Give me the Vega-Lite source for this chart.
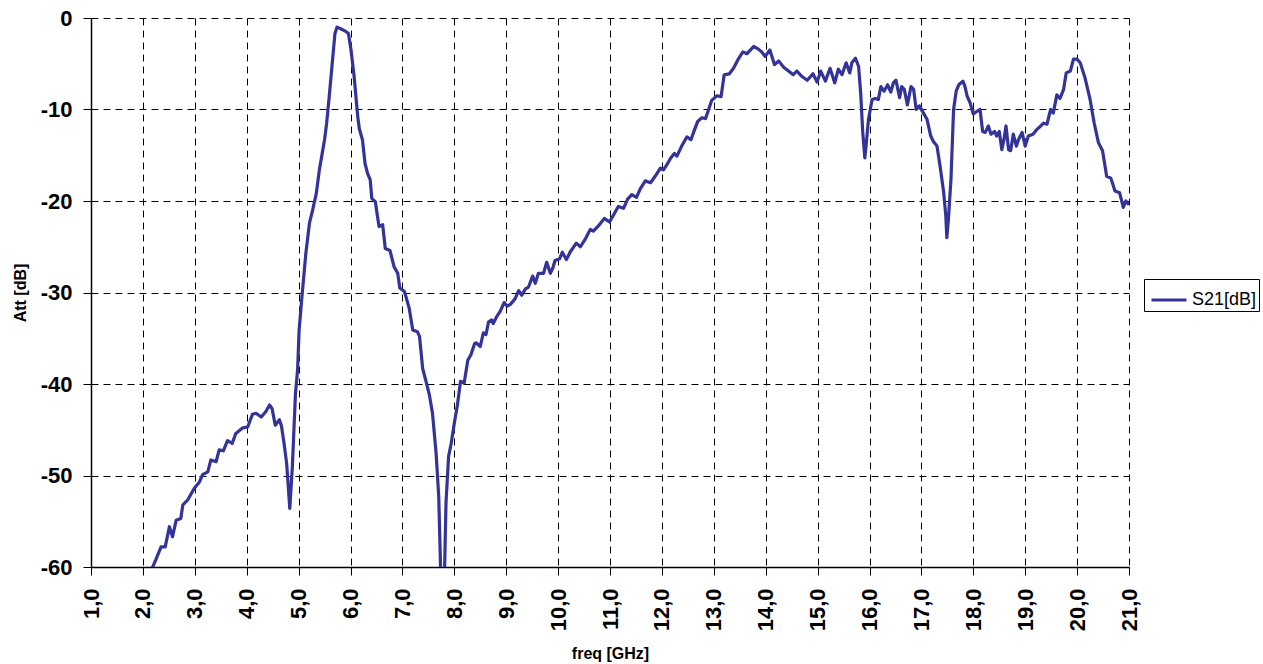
{
  "$schema": "https://vega.github.io/schema/vega-lite/v6.json",
  "width": 1038,
  "height": 549,
  "autosize": {"type": "none"},
  "padding": {"left": 91, "top": 18, "right": 134, "bottom": 97},
  "background": "white",
  "config": {
    "font": "Liberation Sans",
    "view": {"stroke": null},
    "axis": {
      "domainColor": "#000",
      "domainWidth": 1.5,
      "tickColor": "#000",
      "tickSize": 8,
      "grid": true,
      "gridColor": "#000",
      "gridDash": [7, 5],
      "gridWidth": 1,
      "labelFont": "Liberation Sans",
      "labelFontSize": 22,
      "labelFontWeight": "bold",
      "labelColor": "#000",
      "labelFlush": false,
      "labelOverlap": false,
      "titleFont": "Liberation Sans",
      "titleFontSize": 16,
      "titleFontWeight": "bold",
      "titleColor": "#000"
    }
  },
  "data": {
    "values": [
      {"f": 2.15, "s21": -60.5}, {"f": 2.25, "s21": -59.2}, {"f": 2.35, "s21": -57.8}, {"f": 2.43, "s21": -57.8},
      {"f": 2.51, "s21": -55.6}, {"f": 2.57, "s21": -56.7}, {"f": 2.64, "s21": -54.9}, {"f": 2.73, "s21": -54.7},
      {"f": 2.77, "s21": -53.2}, {"f": 2.86, "s21": -52.7}, {"f": 2.99, "s21": -51.4}, {"f": 3.09, "s21": -50.7},
      {"f": 3.15, "s21": -49.9}, {"f": 3.25, "s21": -49.6}, {"f": 3.31, "s21": -48.3}, {"f": 3.41, "s21": -48.5},
      {"f": 3.47, "s21": -47.2}, {"f": 3.55, "s21": -47.3}, {"f": 3.63, "s21": -46.2}, {"f": 3.72, "s21": -46.5},
      {"f": 3.79, "s21": -45.4}, {"f": 3.92, "s21": -44.8}, {"f": 4.02, "s21": -44.7}, {"f": 4.11, "s21": -43.3},
      {"f": 4.18, "s21": -43.2}, {"f": 4.28, "s21": -43.6}, {"f": 4.37, "s21": -43.0}, {"f": 4.44, "s21": -42.3},
      {"f": 4.49, "s21": -42.7}, {"f": 4.55, "s21": -44.5}, {"f": 4.63, "s21": -43.9}, {"f": 4.67, "s21": -44.6},
      {"f": 4.72, "s21": -46.5}, {"f": 4.77, "s21": -48.7}, {"f": 4.83, "s21": -53.6}, {"f": 4.88, "s21": -49.0},
      {"f": 4.94, "s21": -41.0}, {"f": 4.98, "s21": -38.5}, {"f": 5.01, "s21": -34.1}, {"f": 5.07, "s21": -30.1},
      {"f": 5.14, "s21": -25.7}, {"f": 5.21, "s21": -22.4}, {"f": 5.27, "s21": -21.0}, {"f": 5.34, "s21": -19.2},
      {"f": 5.40, "s21": -16.6}, {"f": 5.50, "s21": -13.3}, {"f": 5.54, "s21": -11.5}, {"f": 5.59, "s21": -8.6},
      {"f": 5.66, "s21": -4.2}, {"f": 5.70, "s21": -1.7}, {"f": 5.74, "s21": -1.0}, {"f": 5.82, "s21": -1.2},
      {"f": 5.89, "s21": -1.4}, {"f": 5.96, "s21": -1.7}, {"f": 6.01, "s21": -3.5}, {"f": 6.07, "s21": -6.4},
      {"f": 6.14, "s21": -10.8}, {"f": 6.17, "s21": -12.1}, {"f": 6.23, "s21": -13.3}, {"f": 6.28, "s21": -15.9},
      {"f": 6.33, "s21": -17.0}, {"f": 6.38, "s21": -17.7}, {"f": 6.41, "s21": -19.7}, {"f": 6.48, "s21": -20.1},
      {"f": 6.52, "s21": -21.7}, {"f": 6.55, "s21": -22.8}, {"f": 6.62, "s21": -22.6}, {"f": 6.67, "s21": -25.2},
      {"f": 6.76, "s21": -25.4}, {"f": 6.84, "s21": -27.2}, {"f": 6.91, "s21": -27.9}, {"f": 6.95, "s21": -29.5},
      {"f": 7.04, "s21": -29.9}, {"f": 7.13, "s21": -31.7}, {"f": 7.20, "s21": -34.1}, {"f": 7.29, "s21": -34.3},
      {"f": 7.33, "s21": -34.8}, {"f": 7.39, "s21": -38.3}, {"f": 7.45, "s21": -39.6}, {"f": 7.52, "s21": -41.2},
      {"f": 7.58, "s21": -43.2}, {"f": 7.65, "s21": -47.6}, {"f": 7.70, "s21": -52.3}, {"f": 7.74, "s21": -61.0},
      {"f": 7.81, "s21": -61.0}, {"f": 7.84, "s21": -53.0}, {"f": 7.89, "s21": -47.9}, {"f": 7.94, "s21": -46.5},
      {"f": 8.00, "s21": -44.3}, {"f": 8.06, "s21": -42.3}, {"f": 8.12, "s21": -39.7}, {"f": 8.19, "s21": -39.9},
      {"f": 8.26, "s21": -37.4}, {"f": 8.32, "s21": -36.8}, {"f": 8.39, "s21": -35.6}, {"f": 8.42, "s21": -35.5},
      {"f": 8.50, "s21": -35.9}, {"f": 8.56, "s21": -34.4}, {"f": 8.61, "s21": -34.6}, {"f": 8.66, "s21": -33.2},
      {"f": 8.72, "s21": -33.0}, {"f": 8.75, "s21": -33.4}, {"f": 8.82, "s21": -32.6}, {"f": 8.88, "s21": -32.1},
      {"f": 8.96, "s21": -31.1}, {"f": 9.02, "s21": -31.5}, {"f": 9.08, "s21": -31.3}, {"f": 9.17, "s21": -30.7},
      {"f": 9.24, "s21": -29.8}, {"f": 9.30, "s21": -30.3}, {"f": 9.37, "s21": -29.6}, {"f": 9.43, "s21": -29.4},
      {"f": 9.51, "s21": -28.2}, {"f": 9.56, "s21": -29.0}, {"f": 9.62, "s21": -27.9}, {"f": 9.72, "s21": -27.9},
      {"f": 9.78, "s21": -26.7}, {"f": 9.85, "s21": -27.9}, {"f": 9.90, "s21": -27.3}, {"f": 9.94, "s21": -26.5},
      {"f": 10.03, "s21": -26.3}, {"f": 10.08, "s21": -25.6}, {"f": 10.16, "s21": -26.4}, {"f": 10.23, "s21": -25.6},
      {"f": 10.35, "s21": -24.6}, {"f": 10.43, "s21": -25.0}, {"f": 10.52, "s21": -24.2}, {"f": 10.62, "s21": -23.1},
      {"f": 10.68, "s21": -23.3}, {"f": 10.78, "s21": -22.7}, {"f": 10.89, "s21": -21.9}, {"f": 10.99, "s21": -22.3},
      {"f": 11.07, "s21": -21.5}, {"f": 11.16, "s21": -20.6}, {"f": 11.26, "s21": -20.8}, {"f": 11.34, "s21": -19.8},
      {"f": 11.42, "s21": -19.3}, {"f": 11.51, "s21": -19.6}, {"f": 11.58, "s21": -18.7}, {"f": 11.68, "s21": -17.8},
      {"f": 11.78, "s21": -18.0}, {"f": 11.87, "s21": -17.3}, {"f": 11.97, "s21": -16.4}, {"f": 12.03, "s21": -16.6},
      {"f": 12.10, "s21": -16.0}, {"f": 12.17, "s21": -15.3}, {"f": 12.24, "s21": -14.8}, {"f": 12.29, "s21": -15.1},
      {"f": 12.39, "s21": -13.9}, {"f": 12.48, "s21": -13.0}, {"f": 12.56, "s21": -13.3}, {"f": 12.61, "s21": -12.5},
      {"f": 12.69, "s21": -11.3}, {"f": 12.77, "s21": -10.9}, {"f": 12.84, "s21": -11.0}, {"f": 12.90, "s21": -10.0},
      {"f": 12.96, "s21": -9.0}, {"f": 13.06, "s21": -8.5}, {"f": 13.14, "s21": -8.6}, {"f": 13.20, "s21": -6.2},
      {"f": 13.30, "s21": -6.1}, {"f": 13.38, "s21": -5.5}, {"f": 13.48, "s21": -4.4}, {"f": 13.56, "s21": -3.7},
      {"f": 13.64, "s21": -3.9}, {"f": 13.77, "s21": -3.1}, {"f": 13.86, "s21": -3.4}, {"f": 13.92, "s21": -3.7},
      {"f": 13.99, "s21": -4.2}, {"f": 14.08, "s21": -3.5}, {"f": 14.17, "s21": -5.1}, {"f": 14.25, "s21": -4.7},
      {"f": 14.35, "s21": -5.4}, {"f": 14.44, "s21": -5.8}, {"f": 14.53, "s21": -6.2}, {"f": 14.60, "s21": -5.8},
      {"f": 14.70, "s21": -6.4}, {"f": 14.80, "s21": -6.8}, {"f": 14.91, "s21": -6.1}, {"f": 14.99, "s21": -7.0},
      {"f": 15.06, "s21": -5.8}, {"f": 15.15, "s21": -6.9}, {"f": 15.24, "s21": -5.5}, {"f": 15.33, "s21": -7.1},
      {"f": 15.40, "s21": -5.6}, {"f": 15.47, "s21": -6.2}, {"f": 15.55, "s21": -4.9}, {"f": 15.62, "s21": -6.0},
      {"f": 15.66, "s21": -4.9}, {"f": 15.73, "s21": -4.4}, {"f": 15.79, "s21": -5.3}, {"f": 15.83, "s21": -8.2},
      {"f": 15.87, "s21": -12.5}, {"f": 15.91, "s21": -15.3}, {"f": 15.94, "s21": -13.6}, {"f": 15.98, "s21": -11.1},
      {"f": 16.05, "s21": -8.9}, {"f": 16.11, "s21": -8.8}, {"f": 16.17, "s21": -8.9}, {"f": 16.22, "s21": -7.5},
      {"f": 16.28, "s21": -8.0}, {"f": 16.35, "s21": -7.3}, {"f": 16.41, "s21": -8.1}, {"f": 16.46, "s21": -7.1},
      {"f": 16.51, "s21": -6.8}, {"f": 16.58, "s21": -8.7}, {"f": 16.62, "s21": -7.5}, {"f": 16.67, "s21": -7.8},
      {"f": 16.73, "s21": -9.5}, {"f": 16.80, "s21": -7.5}, {"f": 16.85, "s21": -7.8}, {"f": 16.90, "s21": -10.0},
      {"f": 16.96, "s21": -9.6}, {"f": 17.04, "s21": -10.4}, {"f": 17.11, "s21": -11.1}, {"f": 17.18, "s21": -12.9},
      {"f": 17.23, "s21": -13.5}, {"f": 17.30, "s21": -14.0}, {"f": 17.36, "s21": -16.2}, {"f": 17.43, "s21": -19.1},
      {"f": 17.47, "s21": -21.6}, {"f": 17.49, "s21": -24.0}, {"f": 17.52, "s21": -22.0}, {"f": 17.57, "s21": -17.6},
      {"f": 17.62, "s21": -10.0}, {"f": 17.67, "s21": -8.0}, {"f": 17.72, "s21": -7.3}, {"f": 17.80, "s21": -6.9},
      {"f": 17.84, "s21": -7.5}, {"f": 17.88, "s21": -8.5}, {"f": 17.94, "s21": -9.3}, {"f": 18.00, "s21": -10.5},
      {"f": 18.07, "s21": -10.2}, {"f": 18.13, "s21": -10.0}, {"f": 18.18, "s21": -12.4}, {"f": 18.23, "s21": -12.5},
      {"f": 18.29, "s21": -11.8}, {"f": 18.34, "s21": -12.7}, {"f": 18.41, "s21": -12.4}, {"f": 18.45, "s21": -12.9},
      {"f": 18.50, "s21": -12.4}, {"f": 18.55, "s21": -14.4}, {"f": 18.59, "s21": -13.3}, {"f": 18.63, "s21": -11.8},
      {"f": 18.68, "s21": -14.4}, {"f": 18.72, "s21": -14.5}, {"f": 18.77, "s21": -12.7}, {"f": 18.83, "s21": -14.0},
      {"f": 18.87, "s21": -13.3}, {"f": 18.94, "s21": -12.5}, {"f": 19.00, "s21": -14.0}, {"f": 19.06, "s21": -12.9},
      {"f": 19.15, "s21": -12.7}, {"f": 19.22, "s21": -12.2}, {"f": 19.30, "s21": -11.8}, {"f": 19.35, "s21": -11.5},
      {"f": 19.42, "s21": -11.6}, {"f": 19.49, "s21": -10.0}, {"f": 19.54, "s21": -10.4}, {"f": 19.61, "s21": -8.4},
      {"f": 19.67, "s21": -8.8}, {"f": 19.74, "s21": -7.8}, {"f": 19.79, "s21": -6.0}, {"f": 19.87, "s21": -5.8},
      {"f": 19.93, "s21": -4.5}, {"f": 20.00, "s21": -4.5}, {"f": 20.06, "s21": -4.9}, {"f": 20.15, "s21": -6.5},
      {"f": 20.25, "s21": -8.9}, {"f": 20.33, "s21": -11.5}, {"f": 20.41, "s21": -13.6}, {"f": 20.49, "s21": -14.5},
      {"f": 20.57, "s21": -17.3}, {"f": 20.65, "s21": -17.5}, {"f": 20.73, "s21": -18.9}, {"f": 20.82, "s21": -19.1},
      {"f": 20.89, "s21": -20.7}, {"f": 20.94, "s21": -20.0}, {"f": 21.0, "s21": -20.4}
    ]
  },
  "mark": {"type": "line", "clip": true, "strokeWidth": 3.2, "strokeJoin": "round"},
  "encoding": {
    "x": {
      "field": "f",
      "type": "quantitative",
      "title": "freq [GHz]",
      "scale": {"domain": [1, 21], "nice": false, "zero": false},
      "axis": {
        "values": [1,2,3,4,5,6,7,8,9,10,11,12,13,14,15,16,17,18,19,20,21],
        "labelExpr": "replace(format(datum.value, '.1f'), '.', ',')",
        "labelAngle": -90,
        "labelPadding": 13,
        "titlePadding": 15
      }
    },
    "y": {
      "field": "s21",
      "type": "quantitative",
      "title": "Att [dB]",
      "scale": {"domain": [-60, 0], "nice": false, "zero": false},
      "axis": {
        "values": [-60, -50, -40, -30, -20, -10, 0],
        "labelExpr": "'' + datum.value",
        "labelPadding": 11,
        "titlePadding": 12
      }
    },
    "color": {
      "datum": "S21[dB]",
      "scale": {"range": ["#333399"]},
      "legend": {
        "title": null,
        "orient": "none",
        "legendX": 1053,
        "legendY": 261,
        "strokeColor": "#000",
        "padding": 2,
        "symbolType": "stroke",
        "symbolSize": 1225,
        "symbolStrokeWidth": 3,
        "symbolOffset": 4,
        "labelFont": "Liberation Sans",
        "labelFontSize": 18,
        "labelColor": "#000",
        "fillColor": "white"
      }
    }
  }
}
